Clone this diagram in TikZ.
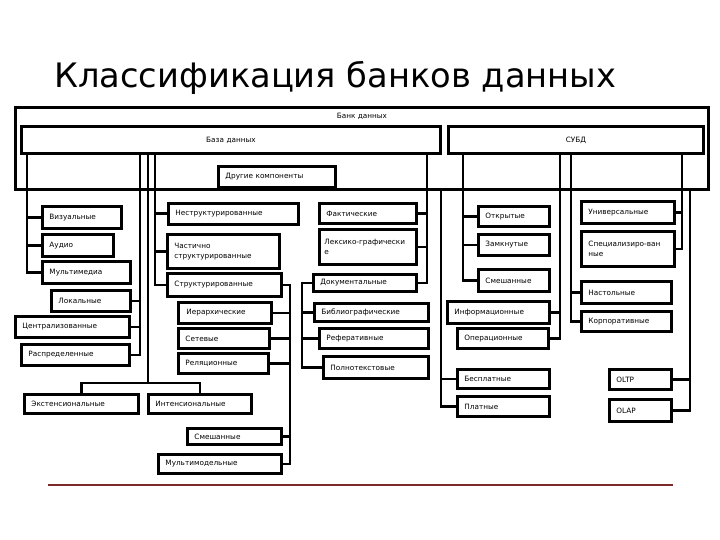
\documentclass[tikz,border=0pt]{standalone}
\usepackage{fontspec}
\setmainfont{DejaVu Sans}
\usepackage{tikz}
\usetikzlibrary{positioning}
\definecolor{rulered}{HTML}{7B2A2A}
\hyphenpenalty=10000
\exhyphenpenalty=10000

\begin{document}
\begin{tikzpicture}[x=1pt,y=-1pt,
  box/.style={draw,line width=2.9pt,inner xsep=7pt,inner ysep=0pt,align=left,
    anchor=north west,font=\fontsize{7.3}{9.5}\selectfont},
  wire/.style={line width=2.9pt}]
\useasboundingbox (0,0) rectangle (720,540);
% title and rule
\node[anchor=base west,inner sep=0pt,font=\fontsize{33.7}{38}\selectfont] (title) at (54,88) {Классификация банков данных};
\draw[rulered,line width=1.2pt] (48,485) -- (673,485);
% top level
\node[box,text width=679,minimum height=82,
  label={[anchor=north,yshift=-4pt,font=\fontsize{7.3}{9}\selectfont]north:Банк данных}] (bank) at (14,106) {};
\node[box,text width=405,minimum height=27,align=center] (db) at (20,125) {База данных};
\node[box,text width=241,minimum height=27,align=center] (dbms) at (447,125) {СУБД};
\node[box,text width=103,minimum height=21] (other) at (217,165) {Другие компоненты};
% left column
\node[box,text width=65,minimum height=22] (vis) at (41,205) {Визуальные};
\node[box,text width=57,minimum height=22] (aud) at (41,233) {Аудио};
\node[box,text width=74,minimum height=22] (mm) at (41,260) {Мультимедиа};
\node[box,text width=65,minimum height=21] (loc) at (50,289) {Локальные};
\node[box,text width=100,minimum height=21] (cen) at (14,315) {Централизованные};
\node[box,text width=94,minimum height=21] (dis) at (20,343) {Распределенные};
\node[box,text width=100,minimum height=19] (ext) at (23,393) {Экстенсиональные};
\node[box,text width=89,minimum height=19] (int) at (147,393) {Интенсиональные};
% structure
\node[box,text width=116,minimum height=21] (nstr) at (167,202) {Неструктурированные};
\node[box,text width=98,minimum height=34] (part) at (166,233) {Частично\\структурированные};
\node[box,text width=100,minimum height=23] (str) at (166,272) {Структурированные};
\node[box,text width=77,minimum height=21,inner xsep=8pt] (hier) at (177,301) {Иерархические};
\node[box,text width=77,minimum height=20] (net) at (177,327) {Сетевые};
\node[box,text width=76,minimum height=20] (rel) at (177,352) {Реляционные};
\node[box,text width=80,minimum height=16] (mixm) at (186,427) {Смешанные};
\node[box,text width=109,minimum height=19] (mmod) at (157,453) {Мультимодельные};
% content
\node[box,text width=83,minimum height=20] (fact) at (318,202) {Фактические};
\node[box,text width=87,minimum height=35,inner xsep=5pt] (lex) at (318,228) {Лексико-графически\\е};
\node[box,text width=89,minimum height=17] (doc) at (312,273) {Документальные};
\node[box,text width=100,minimum height=18] (bib) at (313,302) {Библиографические};
\node[box,text width=95,minimum height=20] (ref) at (318,327) {Реферативные};
\node[box,text width=91,minimum height=22] (full) at (322,355) {Полнотекстовые};
% dbms side
\node[box,text width=57,minimum height=20] (open) at (477,205) {Открытые};
\node[box,text width=57,minimum height=21] (clos) at (477,233) {Замкнутые};
\node[box,text width=57,minimum height=22] (mixa) at (477,268) {Смешанные};
\node[box,text width=88,minimum height=22] (info) at (446,300) {Информационные};
\node[box,text width=77,minimum height=20] (oper) at (456,327) {Операционные};
\node[box,text width=78,minimum height=19] (free) at (456,368) {Бесплатные};
\node[box,text width=78,minimum height=20] (paid) at (456,395) {Платные};
\node[box,text width=79,minimum height=22] (univ) at (580,200) {Универсальные};
\node[box,text width=79,minimum height=35] (spec) at (580,230) {Специализиро-ван\\ные};
\node[box,text width=76,minimum height=22] (desk) at (580,280) {Настольные};
\node[box,text width=76,minimum height=20] (corp) at (580,310) {Корпоративные};
\node[box,text width=48,minimum height=20] (oltp) at (608,368) {OLTP};
\node[box,text width=48,minimum height=22] (olap) at (608,398) {OLAP};
% buses
\coordinate (bA) at (27,0);
\coordinate (bB) at (140,0);
\coordinate (bC) at (148,383);
\coordinate (bD) at (155,0);
\coordinate (bE) at (290,0);
\coordinate (bF) at (427,0);
\coordinate (bG) at (302,0);
\coordinate (bH) at (441,0);
\coordinate (bI) at (463,0);
\coordinate (bJ) at (560,0);
\coordinate (bK) at (571,0);
\coordinate (bL) at (682,0);
\coordinate (bM) at (690,0);
% connectors
\draw[wire] (bA |- db.south) |- (mm.west);
\draw[wire] (bA |- vis.west) -- (vis.west);
\draw[wire] (bA |- aud.west) -- (aud.west);
\draw[wire] (bB |- db.south) |- (dis.east);
\draw[wire] (bB |- loc.east) -- (loc.east);
\draw[wire] (bB |- cen.east) -- (cen.east);
\draw[wire] (bC |- db.south) -- (bC);
\draw[wire] (ext.north) |- (bC) -| (int.north);
\draw[wire] (bD |- db.south) |- (str.west);
\draw[wire] (bD |- nstr.west) -- (nstr.west);
\draw[wire] (bD |- part.west) -- (part.west);
\draw[wire] (str.east) -| (bE |- mmod.east) -- (mmod.east);
\draw[wire] (bE |- hier.east) -- (hier.east);
\draw[wire] (bE |- net.east) -- (net.east);
\draw[wire] (bE |- rel.east) -- (rel.east);
\draw[wire] (bE |- mixm.east) -- (mixm.east);
\draw[wire] (bF |- db.south) |- (doc.east);
\draw[wire] (bF |- fact.east) -- (fact.east);
\draw[wire] (bF |- lex.east) -- (lex.east);
\draw[wire] (doc.west) -| (bG |- full.west) -- (full.west);
\draw[wire] (bG |- bib.west) -- (bib.west);
\draw[wire] (bG |- ref.west) -- (ref.west);
\draw[wire] (bH |- bank.south) |- (paid.west);
\draw[wire] (bH |- free.west) -- (free.west);
\draw[wire] (bI |- dbms.south) |- (mixa.west);
\draw[wire] (bI |- open.west) -- (open.west);
\draw[wire] (bI |- clos.west) -- (clos.west);
\draw[wire] (bJ |- dbms.south) |- (oper.east);
\draw[wire] (bJ |- info.east) -- (info.east);
\draw[wire] (bK |- dbms.south) |- (corp.west);
\draw[wire] (bK |- desk.west) -- (desk.west);
\draw[wire] (bL |- dbms.south) |- (spec.east);
\draw[wire] (bL |- univ.east) -- (univ.east);
\draw[wire] (bM |- bank.south) |- (olap.east);
\draw[wire] (bM |- oltp.east) -- (oltp.east);
\end{tikzpicture}
\end{document}
